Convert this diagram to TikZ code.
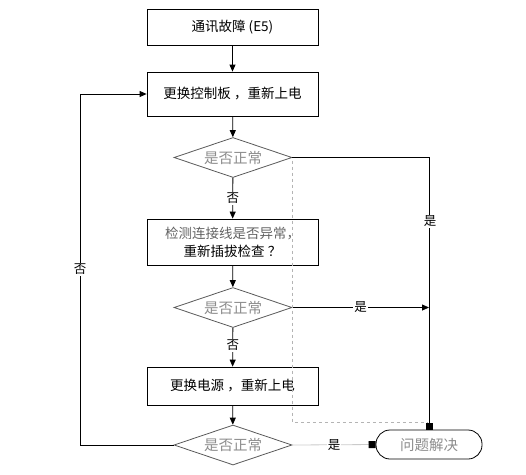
\documentclass[tikz,border=0pt]{standalone}
\usepackage{fontspec}
\usepackage{xcolor}
\usepackage{tikz}
\usetikzlibrary{
  arrows.meta,
  positioning,
  calc,
  shapes.geometric
}
\newfontfamily\cjk{Noto Sans CJK SC}
\definecolor{chkgray}{HTML}{8C8C8C}
\definecolor{dashgray}{HTML}{B4B4B4}

\begin{document}
\begin{tikzpicture}[x=1pt, y=-1pt,
  stepbox/.style={draw, line width=0.8pt, minimum width=171pt, minimum height=36pt,
                  font=\cjk\fontsize{13.5}{18}\selectfont, align=center, inner sep=2pt},
  chkbox/.style={draw, diamond, aspect=3, inner sep=0pt, line width=0.8pt, draw=black!65,
                 minimum width=118pt, minimum height=40pt,
                 font=\cjk\fontsize{14.5}{15}\selectfont, text=chkgray},
  endbox/.style={draw, rounded corners=14pt, line width=0.8pt, minimum width=106pt,
                 minimum height=29pt, font=\cjk\fontsize{14.5}{15}\selectfont, text=chkgray},
  arr/.style={-{Triangle[length=7pt, width=6pt]}, line width=0.8pt},
  sqarr/.style={-{Square[length=7pt, width=7pt, color=black]}, line width=0.8pt},
  lbl/.style={font=\cjk\fontsize{12.5}{14}\selectfont, fill=white, inner sep=1pt},
]
  \useasboundingbox (0,0) rectangle (526,474);

  % main column
  \node[stepbox] (start) at (232.5, 27.5) {通讯故障 (E5)};
  \node[stepbox, minimum height=44pt] (ctrl) at (232.5, 94) {更换控制板 ，重新上电};
  \node[chkbox] (chk1) at (233, 157.5) {是否正常};
  \node[stepbox, minimum height=46pt] (wire) at (232.5, 242)
    {\textcolor{chkgray!70!black}{检测连接线是否异常，}\\重新插拔检查 ？};
  \node[chkbox] (chk2) at (233, 307.5) {是否正常};
  \node[stepbox, minimum height=38pt] (power) at (232.5, 386) {更换电源 ，重新上电};
  \node[chkbox] (chk3) at (233, 445) {是否正常};
  \node[endbox] (done) at (429, 444.5) {问题解决};

  \coordinate (rt) at (429, 157.5);
  \coordinate (rj) at (429, 307.5);
  \coordinate (lt) at (80, 445);

  % arrows down
  \draw[arr] (start) -- (ctrl);
  \draw[arr] (ctrl) -- (chk1);
  \draw[arr] (chk1) -- (wire) node[pos=0.5, lbl] {否};
  \draw[arr] (wire) -- (chk2);
  \draw[arr] (chk2) -- (power) node[pos=0.45, lbl] {否};
  \draw[arr] (power) -- (chk3);

  % yes branches
  \draw[sqarr] (chk1.east) -- (rt) -- (done.north);
  \node[lbl] at (430, 221) {是};
  \draw[arr] (chk2.east) -- (rj) node[pos=0.5, lbl] {是};
  \draw[sqarr, draw=dashgray!70] (chk3.east) -- (done.west) node[pos=0.5, lbl, text=black] {是};

  % dashed guide
  \draw[dashed, dashgray, line width=0.6pt] (chk1.east) ++(0, 3) |- (428, 422);

  % loop back
  \draw[arr] (chk3.west) -- (lt) |- (ctrl.west) node[pos=0.25, lbl] {否};
\end{tikzpicture}
\end{document}
